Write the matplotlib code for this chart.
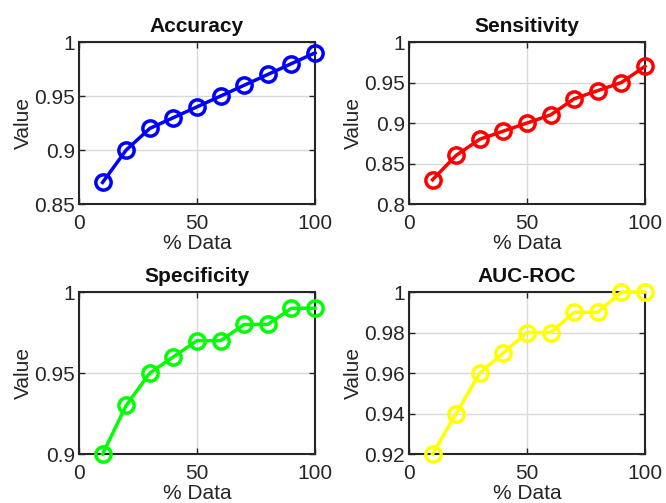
import matplotlib.pyplot as plt
from matplotlib.ticker import FuncFormatter

plt.rcParams['font.family'] = ['Liberation Sans', 'DejaVu Sans']

pct_data = [10, 20, 30, 40, 50, 60, 70, 80, 90, 100]
accuracy = [0.87, 0.90, 0.92, 0.93, 0.94, 0.95, 0.96, 0.97, 0.98, 0.99]
sensitivity = [0.83, 0.86, 0.88, 0.89, 0.90, 0.91, 0.93, 0.94, 0.95, 0.97]
specificity = [0.90, 0.93, 0.95, 0.96, 0.97, 0.97, 0.98, 0.98, 0.99, 0.99]
auc_roc = [0.92, 0.94, 0.96, 0.97, 0.98, 0.98, 0.99, 0.99, 1.00, 1.00]

titulos = ['Accuracy', 'Sensitivity', 'Specificity', 'AUC-ROC']
series = [accuracy, sensitivity, specificity, auc_roc]
colores = ['#0000ff', '#ff0000', '#00ff00', '#ffff00']
ylims = [(0.85, 1.0), (0.8, 1.0), (0.9, 1.0), (0.92, 1.0)]
yticks = [[0.85, 0.9, 0.95, 1.0],
          [0.8, 0.85, 0.9, 0.95, 1.0],
          [0.9, 0.95, 1.0],
          [0.92, 0.94, 0.96, 0.98, 1.0]]

fig = plt.figure(figsize=(6.66, 5.03), dpi=100)
posiciones = [[0.1186, 0.5944, 0.3544, 0.322],
              [0.614, 0.5944, 0.3544, 0.322],
              [0.1186, 0.0974, 0.3544, 0.322],
              [0.614, 0.0974, 0.3544, 0.322]]

gris = '#262626'
for pos, titulo, y, c, yl, yt in zip(posiciones, titulos, series, colores, ylims, yticks):
    ax = fig.add_axes(pos)
    ax.plot(pct_data, y, color=c, lw=2.5, marker='o', markersize=11,
            markerfacecolor='none', markeredgewidth=2.5, clip_on=False, zorder=3)
    ax.set_xlim(0, 100)
    ax.set_ylim(*yl)
    ax.set_xticks([0, 50, 100])
    ax.set_yticks(yt)
    ax.yaxis.set_major_formatter(FuncFormatter(lambda v, p: f'{v:g}'))
    ax.grid(True, color='#d9d9d9', lw=1)
    ax.set_axisbelow(True)
    ax.tick_params(direction='in', top=True, right=True, labelsize=15,
                   colors=gris, length=4, width=1)
    ax.tick_params(axis='x', pad=7)
    ax.tick_params(axis='y', pad=3)
    for s in ax.spines.values():
        s.set_color(gris)
        s.set_linewidth(1.5)
    ax.set_title(titulo, fontsize=15, fontweight='bold', color='#111111', pad=7)
    ax.set_xlabel('% Data', fontsize=15, color=gris, labelpad=1)
    ax.set_ylabel('Value', fontsize=15, color=gris, labelpad=1)

fig.savefig('out.png', dpi=100)
